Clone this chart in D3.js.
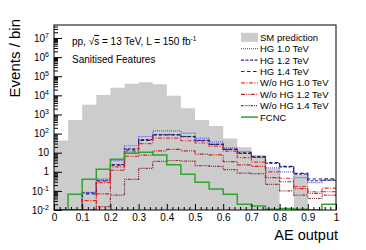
<!DOCTYPE html>
<html>
<head>
<meta charset="utf-8">
<script src="https://cdn.jsdelivr.net/npm/d3@7"></script>
<style>
  body { margin: 0; background: #fff; }
  svg { display: block; font-family: "Liberation Sans", Arial, Helvetica, sans-serif; }
</style>
</head>
<body>
<div id="chart"></div>
<script>
// bin edges of the AE output histogram
const binEdges = [0, 0.05, 0.1, 0.15, 0.2, 0.25, 0.3, 0.35, 0.4, 0.45, 0.5,
                  0.55, 0.6, 0.65, 0.7, 0.75, 0.8, 0.85, 0.9, 0.95, 1.0];

// events per bin
const smPrediction = [43, 510, 3200, 10500, 25000, 40000, 49000, 38000, 9400, 2100,
                      510, 250, 56, 19, 7.6, 1.5, 0, 0.68, 0, 0];
const hg10 = [0, 0, 0.085, 0.43, 3.8, 23, 70, 137, 137, 105,
              58, 37, 18, 11.5, 5.6, 1.6, 1.0, 0.5, 0.27, 0.35];
const hg12 = [0, 0, 0.08, 0.36, 2.4, 16, 48, 88, 88, 70,
              44, 27, 15, 9.3, 5.8, 2.8, 1.8, 0.75, 0.34, 0.37];
const hg14 = [0, 0, 0.07, 0.33, 2.2, 14, 44, 84, 86, 68,
              42, 27, 15, 9.8, 6.2, 3.0, 1.9, 0.82, 0.42, 0.43];
const woHg10 = [0, 0, 0.031, 0.27, 1.8, 11, 30, 58, 58, 42,
                32, 22, 12, 5.5, 3.2, 1.0, 0.46, 0.17, 0.09, 0.14];
const woHg12 = [0, 0, 0, 0.07, 1.2, 6.5, 7.5, 12.5, 15, 12.5,
                8.3, 7.6, 3.4, 2.3, 1.9, 0.5, 0.3, 0.13, 0.075, 0.09];
const woHg14 = [0, 0, 0, 0.015, 0.06, 0.4, 1.5, 3.5, 3.9, 3.6,
                2.1, 1.9, 1.3, 0.85, 0.8, 0.22, 0.1, 0.06, 0.04, 0.06];
const fcnc = [0.009, 0.066, 0.41, 1.35, 4.5, 9.3, 10.5, 7.6, 2.3, 0.74,
              0.28, 0.126, 0.066, 0.02, 0.016, 0.011, 0.012, 0.011, 0.005, 0.02];

const seriesNames = ["HG 1.0 TeV", "HG 1.2 TeV", "HG 1.4 TeV",
                     "W/o HG 1.0 TeV", "W/o HG 1.2 TeV", "W/o HG 1.4 TeV", "FCNC"];
const seriesValues = [hg10, hg12, hg14, woHg10, woHg12, woHg14, fcnc];
const xTickLabels = ["0", "0.1", "0.2", "0.3", "0.4", "0.5", "0.6", "0.7", "0.8", "0.9", "1"];
const yExponents = [-2, -1, 0, 1, 2, 3, 4, 5, 6, 7];

// line styles
const styles = [
  {color: "#5a5aff", dash: "1,1", width: 1.2},
  {color: "#2a2aa0", dash: "3,1.5", width: 1.2},
  {color: "#26265e", dash: "3.5,2.5", width: 1.2},
  {color: "#e83030", dash: "4,1.5,1,1.5", width: 1.2},
  {color: "#c42222", dash: "4,1.2,1,1.2,1,1.2", width: 1.2},
  {color: "#8e3030", dash: "2.5,1,1,1,1,1,1,1", width: 1.2},
  {color: "#2ea62e", dash: null, width: 1.5}
];

const W = 366, H = 250;
const plot = {left: 54, right: 336, top: 25, bottom: 210};
const yMin = 0.01, yMax = 4.8e7;

const svg = d3.select("#chart")
  .append("svg")
    .attr("width", W)
    .attr("height", H);

const x = d3.scaleLinear().domain([0, 1]).range([plot.left, plot.right]);
const y = d3.scaleLog().domain([yMin, yMax]).range([plot.bottom, plot.top]).clamp(true);

svg.append("clipPath").attr("id", "clip")
  .append("rect")
    .attr("x", plot.left).attr("y", plot.top)
    .attr("width", plot.right - plot.left).attr("height", plot.bottom - plot.top);

function stepPoints(vals) {
  const pts = [];
  vals.forEach((v, i) => {
    pts.push([binEdges[i], v]);
    pts.push([binEdges[i + 1], v]);
  });
  return pts;
}
const safe = v => Math.max(v, yMin * 0.5);

const g = svg.append("g").attr("clip-path", "url(#clip)");

// SM prediction filled histogram
const area = d3.area()
  .x(d => x(d[0]))
  .y0(plot.bottom)
  .y1(d => d[1] > 0 ? y(safe(d[1])) : plot.bottom);
g.append("path")
  .datum(stepPoints(smPrediction))
  .attr("d", area)
  .attr("fill", "#cccccc");

// signal lines
const line = d3.line()
  .x(d => x(d[0]))
  .y(d => y(safe(d[1])));
seriesValues.forEach((vals, i) => {
  g.append("path")
    .datum(stepPoints(vals))
    .attr("d", line)
    .attr("fill", "none")
    .attr("stroke", styles[i].color)
    .attr("stroke-width", styles[i].width)
    .attr("stroke-dasharray", styles[i].dash);
});

// frame
svg.append("rect")
  .attr("x", plot.left).attr("y", plot.top)
  .attr("width", plot.right - plot.left).attr("height", plot.bottom - plot.top)
  .attr("fill", "none")
  .attr("stroke", "#000")
  .attr("stroke-width", 1);

// x axis
const xMajor = xTickLabels.map(Number);
const xMinor = d3.range(0, 1.0001, 0.02).filter(v => Math.abs(v * 10 - Math.round(v * 10)) > 1e-6);
svg.append("g")
  .attr("transform", `translate(0,${plot.bottom})`)
  .call(d3.axisBottom(x).tickValues(xMinor).tickSize(-3).tickSizeOuter(0).tickFormat(""))
  .call(a => a.select(".domain").remove());
svg.append("g")
  .attr("transform", `translate(0,${plot.bottom})`)
  .call(d3.axisBottom(x).tickValues(xMajor).tickSize(-6).tickSizeOuter(0).tickPadding(4)
    .tickFormat((d, i) => xTickLabels[i]))
  .call(a => a.select(".domain").remove())
  .selectAll("text")
    .style("font-size", "10px")
    .style("font-family", "inherit")
    .attr("fill", "#000");

// y axis
const yMajor = yExponents.map(e => Math.pow(10, e));
const yMinor = [];
yExponents.forEach(e => {
  for (let k = 2; k <= 9; k++) {
    const v = k * Math.pow(10, e);
    if (v < yMax) yMinor.push(v);
  }
});
svg.append("g")
  .attr("transform", `translate(${plot.left},0)`)
  .call(d3.axisLeft(y).tickValues(yMinor).tickSize(-4).tickSizeOuter(0).tickFormat(""))
  .call(a => a.select(".domain").remove());
const yAx = svg.append("g")
  .attr("transform", `translate(${plot.left},0)`)
  .call(d3.axisLeft(y).tickValues(yMajor).tickSize(-8).tickSizeOuter(0).tickPadding(5).tickFormat(""))
  .call(a => a.select(".domain").remove());
yAx.selectAll(".tick").each(function(d, i) {
  const e = yExponents[i];
  const t = d3.select(this).select("text")
    .style("font-size", "10px")
    .style("font-family", "inherit")
    .attr("fill", "#000");
  if (e === 0) t.text("1");
  else if (e === 1) t.text("10");
  else {
    t.text("10");
    t.append("tspan").text(e).attr("dy", "-4").style("font-size", "7px");
  }
});

// axis titles
svg.append("text")
  .attr("transform", "rotate(-90)")
  .attr("x", -19).attr("y", 20)
  .attr("text-anchor", "end")
  .style("font-size", "15px")
  .text("Events / bin");
svg.append("text")
  .attr("x", 338).attr("y", 240)
  .attr("text-anchor", "end")
  .style("font-size", "14.5px")
  .text("AE output");

// labels in the plot
const lbl = svg.append("text")
  .attr("x", 72).attr("y", 45)
  .style("font-size", "10px");
lbl.append("tspan").text("pp, √");
lbl.append("tspan").text("s").style("text-decoration", "overline");
lbl.append("tspan").text(" = 13 TeV, L = 150 fb");
lbl.append("tspan").text("-1").attr("dy", "-4").style("font-size", "6.5px");
svg.append("text")
  .attr("x", 72).attr("y", 63)
  .style("font-size", "10px")
  .text("Sanitised Features");

// legend
const legX = 241, legY = 37.3, legStep = 11.4;
svg.append("rect")
  .attr("x", legX).attr("y", legY - 4.5)
  .attr("width", 17).attr("height", 9)
  .attr("fill", "#cccccc");
svg.append("text")
  .attr("x", legX + 19).attr("y", legY + 3.4)
  .style("font-size", "9.5px")
  .text("SM prediction");
seriesNames.forEach((name, i) => {
  const yy = legY + legStep * (i + 1);
  svg.append("line")
    .attr("x1", legX).attr("x2", legX + 17)
    .attr("y1", yy).attr("y2", yy)
    .attr("stroke", styles[i].color)
    .attr("stroke-width", styles[i].width)
    .attr("stroke-dasharray", styles[i].dash);
  svg.append("text")
    .attr("x", legX + 19).attr("y", yy + 3.4)
    .style("font-size", "9.5px")
    .text(name);
});
</script>
</body>
</html>
